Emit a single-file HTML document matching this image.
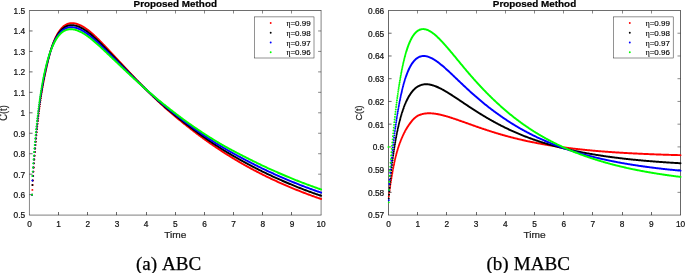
<!DOCTYPE html>
<html><head><meta charset="utf-8"><title>Proposed Method</title>
<style>html,body{margin:0;padding:0;background:#fff}svg{display:block}text{filter:grayscale(1)}</style></head>
<body>
<svg width="685" height="273" viewBox="0 0 685 273">
<rect width="685" height="273" fill="#fff"/>
<g fill="none" stroke="#262626">
<path d="M29.45 10.5V215.1" stroke-width="0.55"/><path d="M321.1 10.5V215.1" stroke-width="0.57"/><path d="M29.18 10.5H321.39" stroke-width="0.67"/><path d="M29.18 215.1H321.39" stroke-width="0.6"/>
<path d="M58.50 215.1v-3.1M87.50 215.1v-3.1M116.50 215.1v-3.1M146.50 215.1v-3.1M175.50 215.1v-3.1M204.50 215.1v-3.1M233.50 215.1v-3.1M262.50 215.1v-3.1M291.50 215.1v-3.1M29.45 194.64h3.1M29.45 174.18h3.1M29.45 153.72h3.1M29.45 133.26h3.1M29.45 112.80h3.1M29.45 92.34h3.1M29.45 71.88h3.1M29.45 51.42h3.1M29.45 30.96h3.1" stroke-width="0.7"/><path d="M58.50 10.5v3.0M87.50 10.5v3.0M116.50 10.5v3.0M146.50 10.5v3.0M175.50 10.5v3.0M204.50 10.5v3.0M233.50 10.5v3.0M262.50 10.5v3.0M291.50 10.5v3.0M321.1 194.64h-3.0M321.1 174.18h-3.0M321.1 153.72h-3.0M321.1 133.26h-3.0M321.1 112.80h-3.0M321.1 92.34h-3.0M321.1 71.88h-3.0M321.1 51.42h-3.0M321.1 30.96h-3.0" stroke-width="0.55"/>
</g>
<g fill="none" stroke-width="1.95" stroke-linecap="round" stroke-linejoin="round">
<path stroke="#ff0000" d="M32.07 194.64h0M32.37 189.88h0M32.66 185.08h0M32.95 180.44h0M33.24 175.95h0M33.53 171.61h0M33.82 167.41h0M34.12 163.36h0M34.41 159.43h0M34.70 155.64h0M34.99 151.97h0M35.28 148.41h0M35.57 144.97h0M35.87 141.64h0M36.16 138.42h0M36.45 135.30h0M36.74 132.27h0M37.03 129.34h0M37.32 126.49h0M37.62 123.73h0M37.91 121.06h0M38.20 118.46h0M38.49 115.94h0M38.78 113.49h0M39.07 111.11h0M39.37 108.80h0M39.66 106.55h0M39.95 104.36h0M40.24 102.24h0M40.53 100.17h0M40.82 98.16h0M41.12 96.20h0M41.41 94.30h0M41.70 92.46h0M41.99 90.68h0M42.28 88.95h0M42.57 87.27h0M42.87 85.63h0M43.16 84.03h0M43.45 82.46h0M43.74 80.93h0M44.03 79.43h0M44.32 77.95h0M44.62 76.50h0M44.91 75.07h0M45.20 73.66h0M45.49 72.27h0M45.78 70.90h0M46.07 69.55h0M46.37 68.21h0M46.66 66.90h0M46.95 65.60h0M47.24 64.31h0M47.53 63.05h0M47.82 61.80h0M48.12 60.58h0M48.41 59.37h0M48.70 58.19h0M48.99 57.02h0M49.28 55.88h0M49.57 54.77h0M49.87 53.68h0M50.16 52.62h0M50.45 51.59h0M50.74 50.59h0M51.03 49.62h0M51.32 48.69h0M51.62 47.79h0M51.91 46.91h0M52.20 46.05h0M52.49 45.22L53.07 43.62L53.66 42.10L54.24 40.66L54.82 39.30L55.41 38.01L55.99 36.79L56.57 35.64L57.16 34.56L57.74 33.54L58.32 32.58L58.91 31.68L59.49 30.84L60.07 30.05L60.66 29.31L61.24 28.62L61.82 27.99L62.41 27.40L62.99 26.85L63.57 26.35L64.16 25.89L64.74 25.47L65.32 25.09L65.91 24.75L66.49 24.45L67.07 24.18L67.66 23.94L68.24 23.74L68.82 23.57L69.41 23.43L69.99 23.32L70.57 23.23L71.16 23.18L71.74 23.15L72.32 23.14L72.91 23.17L73.49 23.21L74.07 23.28L74.66 23.37L75.24 23.48L75.82 23.61L76.41 23.77L76.99 23.94L77.57 24.13L78.16 24.34L78.74 24.56L79.32 24.81L79.91 25.07L80.49 25.34L81.07 25.63L81.66 25.94L82.24 26.26L82.82 26.59L83.41 26.93L83.99 27.29L84.57 27.66L85.16 28.04L85.74 28.44L86.32 28.85L86.91 29.27L87.49 29.70L88.07 30.14L88.65 30.59L89.24 31.05L89.82 31.53L90.40 32.01L90.99 32.50L91.57 33.00L92.15 33.51L92.74 34.03L93.32 34.55L93.90 35.08L94.49 35.62L95.07 36.16L95.65 36.71L96.24 37.27L96.82 37.83L97.40 38.40L97.99 38.97L98.57 39.55L99.15 40.13L99.74 40.72L100.32 41.31L100.90 41.90L101.49 42.50L102.07 43.10L102.65 43.70L103.24 44.31L103.82 44.92L104.40 45.53L104.99 46.14L105.57 46.75L106.15 47.37L106.74 47.98L107.32 48.60L107.90 49.22L108.49 49.84L109.07 50.46L109.65 51.08L110.24 51.70L110.82 52.32L111.40 52.94L111.99 53.56L112.57 54.18L113.15 54.80L113.74 55.42L114.32 56.05L114.90 56.67L115.49 57.30L116.07 57.93L116.65 58.55L117.24 59.18L117.82 59.81L118.40 60.44L118.99 61.06L119.57 61.69L120.15 62.32L120.74 62.95L121.32 63.58L121.90 64.20L122.49 64.83L123.07 65.46L123.65 66.09L124.24 66.71L124.82 67.34L125.40 67.97L125.99 68.59L126.57 69.22L127.15 69.84L127.74 70.47L128.32 71.09L128.90 71.71L129.49 72.33L130.07 72.95L130.65 73.57L131.24 74.19L131.82 74.81L132.40 75.43L132.99 76.04L133.57 76.66L134.15 77.27L134.74 77.88L135.32 78.50L135.90 79.11L136.49 79.71L137.07 80.32L137.65 80.93L138.24 81.54L138.82 82.14L139.40 82.74L139.99 83.34L140.57 83.94L141.15 84.54L141.74 85.14L142.32 85.74L142.90 86.33L143.49 86.92L144.07 87.52L144.65 88.11L145.24 88.69L145.82 89.28L146.40 89.87L146.98 90.45L147.57 91.03L148.15 91.62L148.73 92.20L149.32 92.77L149.90 93.35L150.48 93.92L151.07 94.50L151.65 95.07L152.23 95.64L152.82 96.21L153.40 96.77L153.98 97.34L154.57 97.90L155.15 98.46L155.73 99.02L156.32 99.58L156.90 100.14L157.48 100.69L158.07 101.25L158.65 101.80L159.23 102.35L159.82 102.89L160.40 103.43L160.98 103.97L161.57 104.51L162.15 105.05L162.73 105.58L163.32 106.11L163.90 106.64L164.48 107.16L165.07 107.69L165.65 108.21L166.23 108.73L166.82 109.24L167.40 109.76L167.98 110.27L168.57 110.78L169.15 111.29L169.73 111.80L170.32 112.30L170.90 112.80L171.48 113.30L172.07 113.80L172.65 114.30L173.23 114.79L173.82 115.28L174.40 115.77L174.98 116.26L175.57 116.75L176.15 117.24L176.73 117.72L177.32 118.20L177.90 118.68L178.48 119.16L179.07 119.64L179.65 120.11L180.23 120.59L180.82 121.06L181.40 121.53L181.98 122.00L182.57 122.47L183.15 122.94L183.73 123.41L184.32 123.87L184.90 124.34L185.48 124.80L186.07 125.26L186.65 125.72L187.23 126.18L187.82 126.64L188.40 127.10L188.98 127.55L189.57 128.01L190.15 128.46L190.73 128.92L191.32 129.37L191.90 129.82L192.48 130.28L193.07 130.73L193.65 131.18L194.23 131.63L194.82 132.07L195.40 132.52L195.98 132.96L196.57 133.41L197.15 133.85L197.73 134.29L198.32 134.73L198.90 135.16L199.48 135.60L200.07 136.03L200.65 136.46L201.23 136.89L201.82 137.32L202.40 137.75L202.98 138.18L203.57 138.60L204.15 139.03L204.73 139.45L205.31 139.87L205.90 140.29L206.48 140.71L207.06 141.12L207.65 141.54L208.23 141.95L208.81 142.36L209.40 142.77L209.98 143.18L210.56 143.59L211.15 144.00L211.73 144.40L212.31 144.81L212.90 145.21L213.48 145.61L214.06 146.01L214.65 146.41L215.23 146.80L215.81 147.20L216.40 147.59L216.98 147.98L217.56 148.37L218.15 148.76L218.73 149.15L219.31 149.54L219.90 149.92L220.48 150.31L221.06 150.69L221.65 151.07L222.23 151.45L222.81 151.83L223.40 152.21L223.98 152.58L224.56 152.96L225.15 153.33L225.73 153.70L226.31 154.07L226.90 154.44L227.48 154.81L228.06 155.17L228.65 155.54L229.23 155.90L229.81 156.27L230.40 156.63L230.98 156.99L231.56 157.35L232.15 157.70L232.73 158.06L233.31 158.41L233.90 158.77L234.48 159.12L235.06 159.47L235.65 159.82L236.23 160.17L236.81 160.51L237.40 160.86L237.98 161.20L238.56 161.54L239.15 161.89L239.73 162.23L240.31 162.57L240.90 162.90L241.48 163.24L242.06 163.57L242.65 163.91L243.23 164.24L243.81 164.57L244.40 164.90L244.98 165.23L245.56 165.56L246.15 165.89L246.73 166.21L247.31 166.53L247.90 166.86L248.48 167.18L249.06 167.50L249.65 167.82L250.23 168.13L250.81 168.45L251.40 168.77L251.98 169.08L252.56 169.39L253.15 169.70L253.73 170.02L254.31 170.32L254.90 170.63L255.48 170.94L256.06 171.24L256.65 171.55L257.23 171.85L257.81 172.15L258.40 172.45L258.98 172.75L259.56 173.05L260.15 173.35L260.73 173.65L261.31 173.94L261.90 174.23L262.48 174.53L263.06 174.82L263.64 175.11L264.23 175.40L264.81 175.68L265.39 175.97L265.98 176.26L266.56 176.54L267.14 176.83L267.73 177.11L268.31 177.39L268.89 177.67L269.48 177.95L270.06 178.23L270.64 178.51L271.23 178.78L271.81 179.06L272.39 179.33L272.98 179.61L273.56 179.88L274.14 180.15L274.73 180.42L275.31 180.69L275.89 180.96L276.48 181.23L277.06 181.49L277.64 181.76L278.23 182.02L278.81 182.29L279.39 182.55L279.98 182.81L280.56 183.07L281.14 183.33L281.73 183.59L282.31 183.85L282.89 184.10L283.48 184.36L284.06 184.61L284.64 184.87L285.23 185.12L285.81 185.37L286.39 185.63L286.98 185.88L287.56 186.13L288.14 186.37L288.73 186.62L289.31 186.87L289.89 187.12L290.48 187.36L291.06 187.60L291.64 187.85L292.23 188.09L292.81 188.33L293.39 188.57L293.98 188.81L294.56 189.05L295.14 189.29L295.73 189.53L296.31 189.76L296.89 190.00L297.48 190.23L298.06 190.47L298.64 190.70L299.23 190.93L299.81 191.16L300.39 191.39L300.98 191.62L301.56 191.85L302.14 192.07L302.73 192.30L303.31 192.53L303.89 192.75L304.48 192.97L305.06 193.20L305.64 193.42L306.23 193.64L306.81 193.86L307.39 194.08L307.98 194.30L308.56 194.51L309.14 194.73L309.73 194.94L310.31 195.16L310.89 195.37L311.48 195.59L312.06 195.80L312.64 196.01L313.23 196.22L313.81 196.43L314.39 196.64L314.98 196.84L315.56 197.05L316.14 197.26L316.73 197.46L317.31 197.66L317.89 197.87L318.48 198.07L319.06 198.27L319.64 198.47L320.23 198.67L320.81 198.87L321.10 198.97"/>
<path stroke="#000000" d="M32.07 194.64h0M32.37 185.08h0M32.66 180.44h0M32.95 175.95h0M33.24 171.61h0M33.53 167.41h0M33.82 163.36h0M34.12 159.43h0M34.41 155.64h0M34.70 151.97h0M34.99 148.41h0M35.28 144.97h0M35.57 141.64h0M35.87 138.42h0M36.16 135.30h0M36.45 132.27h0M36.74 129.34h0M37.03 126.49h0M37.32 123.73h0M37.62 121.06h0M37.91 118.46h0M38.20 115.94h0M38.49 113.49h0M38.78 111.11h0M39.07 108.80h0M39.37 106.55h0M39.66 104.36h0M39.95 102.24h0M40.24 100.17h0M40.53 98.16h0M40.82 96.20h0M41.12 94.30h0M41.41 92.44h0M41.70 90.65h0M41.99 88.91h0M42.28 87.21h0M42.57 85.56h0M42.87 83.96h0M43.16 82.39h0M43.45 80.86h0M43.74 79.36h0M44.03 77.89h0M44.32 76.45h0M44.62 75.04h0M44.91 73.66h0M45.20 72.30h0M45.49 70.96h0M45.78 69.65h0M46.07 68.35h0M46.37 67.08h0M46.66 65.83h0M46.95 64.60h0M47.24 63.39h0M47.53 62.20h0M47.82 61.04h0M48.12 59.89h0M48.41 58.76h0M48.70 57.66h0M48.99 56.58h0M49.28 55.52h0M49.57 54.49h0M49.87 53.48h0M50.16 52.49h0M50.45 51.54h0M50.74 50.61h0M51.03 49.71h0M51.32 48.84h0M51.62 47.99h0M51.91 47.17h0M52.20 46.37h0M52.49 45.58L53.07 44.08L53.66 42.66L54.24 41.31L54.82 40.04L55.41 38.83L55.99 37.69L56.57 36.62L57.16 35.61L57.74 34.66L58.32 33.76L58.91 32.92L59.49 32.14L60.07 31.41L60.66 30.72L61.24 30.09L61.82 29.50L62.41 28.95L62.99 28.45L63.57 27.99L64.16 27.57L64.74 27.19L65.32 26.84L65.91 26.54L66.49 26.26L67.07 26.02L67.66 25.81L68.24 25.64L68.82 25.49L69.41 25.37L69.99 25.28L70.57 25.22L71.16 25.19L71.74 25.18L72.32 25.19L72.91 25.23L73.49 25.28L74.07 25.37L74.66 25.47L75.24 25.59L75.82 25.73L76.41 25.90L76.99 26.08L77.57 26.27L78.16 26.49L78.74 26.72L79.32 26.97L79.91 27.23L80.49 27.51L81.07 27.80L81.66 28.11L82.24 28.42L82.82 28.76L83.41 29.10L83.99 29.45L84.57 29.82L85.16 30.20L85.74 30.59L86.32 30.99L86.91 31.41L87.49 31.83L88.07 32.27L88.65 32.71L89.24 33.17L89.82 33.63L90.40 34.10L90.99 34.58L91.57 35.07L92.15 35.57L92.74 36.08L93.32 36.59L93.90 37.11L94.49 37.63L95.07 38.16L95.65 38.70L96.24 39.24L96.82 39.79L97.40 40.34L97.99 40.90L98.57 41.46L99.15 42.02L99.74 42.59L100.32 43.16L100.90 43.74L101.49 44.32L102.07 44.90L102.65 45.48L103.24 46.07L103.82 46.66L104.40 47.25L104.99 47.84L105.57 48.43L106.15 49.03L106.74 49.62L107.32 50.22L107.90 50.81L108.49 51.41L109.07 52.01L109.65 52.61L110.24 53.20L110.82 53.80L111.40 54.40L111.99 54.99L112.57 55.59L113.15 56.19L113.74 56.79L114.32 57.39L114.90 57.99L115.49 58.60L116.07 59.20L116.65 59.80L117.24 60.40L117.82 61.01L118.40 61.61L118.99 62.21L119.57 62.82L120.15 63.42L120.74 64.02L121.32 64.63L121.90 65.23L122.49 65.83L123.07 66.43L123.65 67.03L124.24 67.64L124.82 68.24L125.40 68.84L125.99 69.44L126.57 70.04L127.15 70.63L127.74 71.23L128.32 71.83L128.90 72.43L129.49 73.02L130.07 73.62L130.65 74.21L131.24 74.80L131.82 75.39L132.40 75.99L132.99 76.58L133.57 77.16L134.15 77.75L134.74 78.34L135.32 78.93L135.90 79.51L136.49 80.09L137.07 80.68L137.65 81.26L138.24 81.84L138.82 82.42L139.40 82.99L139.99 83.57L140.57 84.14L141.15 84.72L141.74 85.29L142.32 85.86L142.90 86.43L143.49 87.00L144.07 87.56L144.65 88.13L145.24 88.69L145.82 89.26L146.40 89.82L146.98 90.38L147.57 90.93L148.15 91.49L148.73 92.05L149.32 92.60L149.90 93.15L150.48 93.70L151.07 94.25L151.65 94.80L152.23 95.35L152.82 95.89L153.40 96.43L153.98 96.97L154.57 97.51L155.15 98.05L155.73 98.59L156.32 99.12L156.90 99.66L157.48 100.19L158.07 100.72L158.65 101.25L159.23 101.77L159.82 102.30L160.40 102.82L160.98 103.33L161.57 103.85L162.15 104.36L162.73 104.87L163.32 105.38L163.90 105.89L164.48 106.39L165.07 106.90L165.65 107.40L166.23 107.90L166.82 108.40L167.40 108.89L167.98 109.39L168.57 109.88L169.15 110.37L169.73 110.86L170.32 111.35L170.90 111.84L171.48 112.32L172.07 112.81L172.65 113.29L173.23 113.77L173.82 114.25L174.40 114.73L174.98 115.20L175.57 115.68L176.15 116.15L176.73 116.62L177.32 117.09L177.90 117.56L178.48 118.03L179.07 118.49L179.65 118.96L180.23 119.42L180.82 119.88L181.40 120.34L181.98 120.80L182.57 121.25L183.15 121.71L183.73 122.16L184.32 122.62L184.90 123.07L185.48 123.52L186.07 123.96L186.65 124.41L187.23 124.86L187.82 125.30L188.40 125.74L188.98 126.18L189.57 126.62L190.15 127.06L190.73 127.50L191.32 127.94L191.90 128.37L192.48 128.81L193.07 129.25L193.65 129.68L194.23 130.11L194.82 130.54L195.40 130.97L195.98 131.40L196.57 131.83L197.15 132.26L197.73 132.68L198.32 133.10L198.90 133.52L199.48 133.95L200.07 134.36L200.65 134.78L201.23 135.20L201.82 135.61L202.40 136.02L202.98 136.44L203.57 136.85L204.15 137.26L204.73 137.66L205.31 138.07L205.90 138.48L206.48 138.88L207.06 139.28L207.65 139.68L208.23 140.08L208.81 140.48L209.40 140.88L209.98 141.27L210.56 141.67L211.15 142.06L211.73 142.45L212.31 142.84L212.90 143.23L213.48 143.62L214.06 144.00L214.65 144.39L215.23 144.77L215.81 145.15L216.40 145.53L216.98 145.91L217.56 146.29L218.15 146.66L218.73 147.03L219.31 147.41L219.90 147.78L220.48 148.15L221.06 148.51L221.65 148.88L222.23 149.24L222.81 149.61L223.40 149.97L223.98 150.33L224.56 150.69L225.15 151.05L225.73 151.40L226.31 151.76L226.90 152.11L227.48 152.46L228.06 152.81L228.65 153.16L229.23 153.51L229.81 153.86L230.40 154.20L230.98 154.55L231.56 154.89L232.15 155.23L232.73 155.57L233.31 155.91L233.90 156.25L234.48 156.59L235.06 156.93L235.65 157.26L236.23 157.59L236.81 157.93L237.40 158.26L237.98 158.59L238.56 158.92L239.15 159.25L239.73 159.57L240.31 159.90L240.90 160.22L241.48 160.55L242.06 160.87L242.65 161.19L243.23 161.51L243.81 161.83L244.40 162.15L244.98 162.47L245.56 162.79L246.15 163.10L246.73 163.42L247.31 163.73L247.90 164.04L248.48 164.36L249.06 164.67L249.65 164.98L250.23 165.29L250.81 165.60L251.40 165.91L251.98 166.21L252.56 166.52L253.15 166.82L253.73 167.13L254.31 167.43L254.90 167.73L255.48 168.03L256.06 168.33L256.65 168.63L257.23 168.92L257.81 169.22L258.40 169.51L258.98 169.81L259.56 170.10L260.15 170.39L260.73 170.68L261.31 170.97L261.90 171.26L262.48 171.54L263.06 171.83L263.64 172.11L264.23 172.40L264.81 172.68L265.39 172.96L265.98 173.24L266.56 173.52L267.14 173.80L267.73 174.08L268.31 174.36L268.89 174.63L269.48 174.91L270.06 175.18L270.64 175.46L271.23 175.73L271.81 176.00L272.39 176.27L272.98 176.54L273.56 176.81L274.14 177.08L274.73 177.35L275.31 177.61L275.89 177.88L276.48 178.14L277.06 178.41L277.64 178.67L278.23 178.93L278.81 179.19L279.39 179.45L279.98 179.71L280.56 179.97L281.14 180.22L281.73 180.48L282.31 180.73L282.89 180.99L283.48 181.24L284.06 181.50L284.64 181.75L285.23 182.00L285.81 182.25L286.39 182.50L286.98 182.75L287.56 182.99L288.14 183.24L288.73 183.49L289.31 183.73L289.89 183.98L290.48 184.22L291.06 184.46L291.64 184.70L292.23 184.94L292.81 185.18L293.39 185.42L293.98 185.66L294.56 185.90L295.14 186.14L295.73 186.37L296.31 186.61L296.89 186.84L297.48 187.07L298.06 187.31L298.64 187.54L299.23 187.77L299.81 188.00L300.39 188.23L300.98 188.45L301.56 188.68L302.14 188.91L302.73 189.13L303.31 189.36L303.89 189.58L304.48 189.81L305.06 190.03L305.64 190.25L306.23 190.47L306.81 190.69L307.39 190.91L307.98 191.12L308.56 191.34L309.14 191.56L309.73 191.77L310.31 191.99L310.89 192.20L311.48 192.41L312.06 192.63L312.64 192.84L313.23 193.05L313.81 193.26L314.39 193.46L314.98 193.67L315.56 193.88L316.14 194.08L316.73 194.29L317.31 194.49L317.89 194.70L318.48 194.90L319.06 195.10L319.64 195.30L320.23 195.50L320.81 195.70L321.10 195.80"/>
<path stroke="#0000ff" d="M32.07 194.64h0M32.37 180.44h0M32.66 175.95h0M32.95 171.61h0M33.24 167.41h0M33.53 163.36h0M33.82 159.43h0M34.12 155.64h0M34.41 151.97h0M34.70 148.41h0M34.99 144.97h0M35.28 141.64h0M35.57 138.42h0M35.87 135.30h0M36.16 132.27h0M36.45 129.34h0M36.74 126.49h0M37.03 123.73h0M37.32 121.06h0M37.62 118.46h0M37.91 115.94h0M38.20 113.49h0M38.49 111.11h0M38.78 108.80h0M39.07 106.55h0M39.37 104.36h0M39.66 102.24h0M39.95 100.17h0M40.24 98.16h0M40.53 96.20h0M40.82 94.30h0M41.12 92.44h0M41.41 90.63h0M41.70 88.88h0M41.99 87.17h0M42.28 85.51h0M42.57 83.90h0M42.87 82.32h0M43.16 80.78h0M43.45 79.28h0M43.74 77.81h0M44.03 76.38h0M44.32 74.98h0M44.62 73.61h0M44.91 72.27h0M45.20 70.95h0M45.49 69.67h0M45.78 68.41h0M46.07 67.18h0M46.37 65.97h0M46.66 64.78h0M46.95 63.62h0M47.24 62.48h0M47.53 61.37h0M47.82 60.28h0M48.12 59.21h0M48.41 58.16h0M48.70 57.14h0M48.99 56.14h0M49.28 55.16h0M49.57 54.21h0M49.87 53.28h0M50.16 52.37h0M50.45 51.49h0M50.74 50.63h0M51.03 49.79h0M51.32 48.98h0M51.62 48.19h0M51.91 47.43h0M52.20 46.68h0M52.49 45.95L53.07 44.55L53.66 43.22L54.24 41.97L54.82 40.78L55.41 39.66L55.99 38.60L56.57 37.60L57.16 36.66L57.74 35.77L58.32 34.95L58.91 34.17L59.49 33.44L60.07 32.76L60.66 32.13L61.24 31.55L61.82 31.01L62.41 30.51L62.99 30.05L63.57 29.63L64.16 29.25L64.74 28.90L65.32 28.59L65.91 28.32L66.49 28.08L67.07 27.87L67.66 27.69L68.24 27.54L68.82 27.42L69.41 27.32L69.99 27.25L70.57 27.21L71.16 27.20L71.74 27.20L72.32 27.23L72.91 27.29L73.49 27.36L74.07 27.45L74.66 27.57L75.24 27.70L75.82 27.86L76.41 28.03L76.99 28.21L77.57 28.42L78.16 28.64L78.74 28.88L79.32 29.13L79.91 29.39L80.49 29.67L81.07 29.97L81.66 30.27L82.24 30.59L82.82 30.92L83.41 31.27L83.99 31.62L84.57 31.98L85.16 32.36L85.74 32.74L86.32 33.14L86.91 33.55L87.49 33.97L88.07 34.39L88.65 34.83L89.24 35.28L89.82 35.73L90.40 36.20L90.99 36.67L91.57 37.15L92.15 37.63L92.74 38.13L93.32 38.62L93.90 39.13L94.49 39.64L95.07 40.16L95.65 40.68L96.24 41.21L96.82 41.74L97.40 42.28L97.99 42.82L98.57 43.36L99.15 43.91L99.74 44.46L100.32 45.02L100.90 45.58L101.49 46.14L102.07 46.70L102.65 47.26L103.24 47.83L103.82 48.40L104.40 48.97L104.99 49.54L105.57 50.11L106.15 50.69L106.74 51.26L107.32 51.84L107.90 52.41L108.49 52.99L109.07 53.56L109.65 54.14L110.24 54.71L110.82 55.28L111.40 55.86L111.99 56.43L112.57 57.01L113.15 57.58L113.74 58.16L114.32 58.74L114.90 59.31L115.49 59.89L116.07 60.47L116.65 61.05L117.24 61.63L117.82 62.20L118.40 62.78L118.99 63.36L119.57 63.94L120.15 64.52L120.74 65.10L121.32 65.67L121.90 66.25L122.49 66.83L123.07 67.40L123.65 67.98L124.24 68.56L124.82 69.13L125.40 69.71L125.99 70.28L126.57 70.85L127.15 71.43L127.74 72.00L128.32 72.57L128.90 73.14L129.49 73.71L130.07 74.28L130.65 74.85L131.24 75.41L131.82 75.98L132.40 76.55L132.99 77.11L133.57 77.67L134.15 78.23L134.74 78.80L135.32 79.36L135.90 79.91L136.49 80.47L137.07 81.03L137.65 81.58L138.24 82.14L138.82 82.69L139.40 83.24L139.99 83.79L140.57 84.34L141.15 84.89L141.74 85.44L142.32 85.98L142.90 86.53L143.49 87.07L144.07 87.61L144.65 88.15L145.24 88.69L145.82 89.23L146.40 89.77L146.98 90.30L147.57 90.83L148.15 91.37L148.73 91.90L149.32 92.43L149.90 92.95L150.48 93.48L151.07 94.01L151.65 94.53L152.23 95.05L152.82 95.57L153.40 96.09L153.98 96.61L154.57 97.13L155.15 97.64L155.73 98.15L156.32 98.67L156.90 99.18L157.48 99.68L158.07 100.19L158.65 100.70L159.23 101.20L159.82 101.70L160.40 102.20L160.98 102.69L161.57 103.19L162.15 103.68L162.73 104.17L163.32 104.65L163.90 105.14L164.48 105.62L165.07 106.10L165.65 106.59L166.23 107.07L166.82 107.55L167.40 108.03L167.98 108.50L168.57 108.98L169.15 109.46L169.73 109.93L170.32 110.40L170.90 110.87L171.48 111.35L172.07 111.81L172.65 112.28L173.23 112.75L173.82 113.22L174.40 113.68L174.98 114.14L175.57 114.61L176.15 115.07L176.73 115.53L177.32 115.98L177.90 116.44L178.48 116.89L179.07 117.35L179.65 117.80L180.23 118.25L180.82 118.70L181.40 119.15L181.98 119.59L182.57 120.04L183.15 120.48L183.73 120.92L184.32 121.36L184.90 121.80L185.48 122.23L186.07 122.67L186.65 123.10L187.23 123.53L187.82 123.96L188.40 124.39L188.98 124.81L189.57 125.24L190.15 125.66L190.73 126.08L191.32 126.50L191.90 126.92L192.48 127.34L193.07 127.76L193.65 128.18L194.23 128.60L194.82 129.02L195.40 129.43L195.98 129.84L196.57 130.25L197.15 130.66L197.73 131.07L198.32 131.48L198.90 131.89L199.48 132.29L200.07 132.70L200.65 133.10L201.23 133.50L201.82 133.90L202.40 134.30L202.98 134.70L203.57 135.09L204.15 135.49L204.73 135.88L205.31 136.27L205.90 136.66L206.48 137.05L207.06 137.44L207.65 137.83L208.23 138.21L208.81 138.60L209.40 138.98L209.98 139.36L210.56 139.74L211.15 140.12L211.73 140.50L212.31 140.88L212.90 141.25L213.48 141.63L214.06 142.00L214.65 142.37L215.23 142.74L215.81 143.11L216.40 143.47L216.98 143.84L217.56 144.20L218.15 144.56L218.73 144.92L219.31 145.27L219.90 145.63L220.48 145.98L221.06 146.34L221.65 146.69L222.23 147.04L222.81 147.38L223.40 147.73L223.98 148.08L224.56 148.42L225.15 148.76L225.73 149.10L226.31 149.44L226.90 149.78L227.48 150.12L228.06 150.45L228.65 150.79L229.23 151.12L229.81 151.45L230.40 151.78L230.98 152.11L231.56 152.44L232.15 152.77L232.73 153.09L233.31 153.42L233.90 153.74L234.48 154.06L235.06 154.38L235.65 154.70L236.23 155.02L236.81 155.34L237.40 155.66L237.98 155.98L238.56 156.29L239.15 156.61L239.73 156.92L240.31 157.23L240.90 157.55L241.48 157.86L242.06 158.17L242.65 158.48L243.23 158.79L243.81 159.09L244.40 159.40L244.98 159.71L245.56 160.01L246.15 160.32L246.73 160.63L247.31 160.93L247.90 161.23L248.48 161.54L249.06 161.84L249.65 162.14L250.23 162.44L250.81 162.74L251.40 163.04L251.98 163.34L252.56 163.64L253.15 163.94L253.73 164.24L254.31 164.53L254.90 164.83L255.48 165.12L256.06 165.41L256.65 165.70L257.23 165.99L257.81 166.28L258.40 166.57L258.98 166.86L259.56 167.14L260.15 167.43L260.73 167.71L261.31 168.00L261.90 168.28L262.48 168.56L263.06 168.84L263.64 169.12L264.23 169.40L264.81 169.68L265.39 169.95L265.98 170.23L266.56 170.50L267.14 170.78L267.73 171.05L268.31 171.33L268.89 171.60L269.48 171.87L270.06 172.14L270.64 172.41L271.23 172.68L271.81 172.94L272.39 173.21L272.98 173.48L273.56 173.74L274.14 174.01L274.73 174.27L275.31 174.53L275.89 174.80L276.48 175.06L277.06 175.32L277.64 175.58L278.23 175.83L278.81 176.09L279.39 176.35L279.98 176.61L280.56 176.86L281.14 177.12L281.73 177.37L282.31 177.62L282.89 177.87L283.48 178.13L284.06 178.38L284.64 178.63L285.23 178.87L285.81 179.12L286.39 179.37L286.98 179.62L287.56 179.86L288.14 180.11L288.73 180.35L289.31 180.59L289.89 180.84L290.48 181.08L291.06 181.32L291.64 181.56L292.23 181.80L292.81 182.04L293.39 182.27L293.98 182.51L294.56 182.75L295.14 182.98L295.73 183.22L296.31 183.45L296.89 183.68L297.48 183.92L298.06 184.15L298.64 184.38L299.23 184.61L299.81 184.84L300.39 185.06L300.98 185.29L301.56 185.52L302.14 185.74L302.73 185.97L303.31 186.19L303.89 186.41L304.48 186.64L305.06 186.86L305.64 187.08L306.23 187.30L306.81 187.52L307.39 187.74L307.98 187.95L308.56 188.17L309.14 188.39L309.73 188.60L310.31 188.82L310.89 189.03L311.48 189.24L312.06 189.45L312.64 189.66L313.23 189.87L313.81 190.08L314.39 190.29L314.98 190.50L315.56 190.71L316.14 190.91L316.73 191.12L317.31 191.32L317.89 191.53L318.48 191.73L319.06 191.93L319.64 192.13L320.23 192.33L320.81 192.53L321.10 192.63"/>
<path stroke="#00ff00" d="M32.07 194.64h0M32.37 175.95h0M32.66 171.61h0M32.95 167.41h0M33.24 163.36h0M33.53 159.43h0M33.82 155.64h0M34.12 151.97h0M34.41 148.41h0M34.70 144.97h0M34.99 141.64h0M35.28 138.42h0M35.57 135.30h0M35.87 132.27h0M36.16 129.34h0M36.45 126.49h0M36.74 123.73h0M37.03 121.06h0M37.32 118.46h0M37.62 115.94h0M37.91 113.49h0M38.20 111.11h0M38.49 108.80h0M38.78 106.55h0M39.07 104.36h0M39.37 102.24h0M39.66 100.17h0M39.95 98.16h0M40.24 96.20h0M40.53 94.30h0M40.82 92.44h0M41.12 90.63h0M41.41 88.87h0M41.70 87.16h0M41.99 85.48h0M42.28 83.85h0M42.57 82.27h0M42.87 80.72h0M43.16 79.21h0M43.45 77.74h0M43.74 76.30h0M44.03 74.90h0M44.32 73.53h0M44.62 72.20h0M44.91 70.90h0M45.20 69.63h0M45.49 68.40h0M45.78 67.19h0M46.07 66.01h0M46.37 64.86h0M46.66 63.74h0M46.95 62.65h0M47.24 61.58h0M47.53 60.54h0M47.82 59.52h0M48.12 58.53h0M48.41 57.57h0M48.70 56.62h0M48.99 55.70h0M49.28 54.81h0M49.57 53.93h0M49.87 53.08h0M50.16 52.25h0M50.45 51.44h0M50.74 50.65h0M51.03 49.88h0M51.32 49.13h0M51.62 48.40h0M51.91 47.68h0M52.20 46.99h0M52.49 46.31L53.07 45.01L53.66 43.78L54.24 42.62L54.82 41.52L55.41 40.48L55.99 39.50L56.57 38.58L57.16 37.71L57.74 36.89L58.32 36.13L58.91 35.41L59.49 34.75L60.07 34.12L60.66 33.55L61.24 33.01L61.82 32.52L62.41 32.06L62.99 31.65L63.57 31.27L64.16 30.93L64.74 30.62L65.32 30.35L65.91 30.10L66.49 29.89L67.07 29.71L67.66 29.56L68.24 29.44L68.82 29.34L69.41 29.27L69.99 29.22L70.57 29.20L71.16 29.20L71.74 29.23L72.32 29.28L72.91 29.35L73.49 29.43L74.07 29.54L74.66 29.67L75.24 29.81L75.82 29.98L76.41 30.16L76.99 30.35L77.57 30.56L78.16 30.79L78.74 31.03L79.32 31.29L79.91 31.56L80.49 31.84L81.07 32.14L81.66 32.44L82.24 32.76L82.82 33.09L83.41 33.43L83.99 33.78L84.57 34.14L85.16 34.51L85.74 34.90L86.32 35.29L86.91 35.69L87.49 36.10L88.07 36.52L88.65 36.95L89.24 37.39L89.82 37.84L90.40 38.29L90.99 38.75L91.57 39.22L92.15 39.69L92.74 40.18L93.32 40.66L93.90 41.16L94.49 41.65L95.07 42.16L95.65 42.66L96.24 43.18L96.82 43.69L97.40 44.22L97.99 44.74L98.57 45.27L99.15 45.80L99.74 46.33L100.32 46.87L100.90 47.41L101.49 47.95L102.07 48.50L102.65 49.04L103.24 49.59L103.82 50.14L104.40 50.69L104.99 51.24L105.57 51.79L106.15 52.35L106.74 52.90L107.32 53.45L107.90 54.01L108.49 54.56L109.07 55.11L109.65 55.67L110.24 56.22L110.82 56.77L111.40 57.32L111.99 57.87L112.57 58.42L113.15 58.98L113.74 59.53L114.32 60.08L114.90 60.63L115.49 61.19L116.07 61.74L116.65 62.29L117.24 62.85L117.82 63.40L118.40 63.96L118.99 64.51L119.57 65.06L120.15 65.62L120.74 66.17L121.32 66.72L121.90 67.27L122.49 67.83L123.07 68.38L123.65 68.93L124.24 69.48L124.82 70.03L125.40 70.58L125.99 71.12L126.57 71.67L127.15 72.22L127.74 72.77L128.32 73.31L128.90 73.86L129.49 74.40L130.07 74.94L130.65 75.48L131.24 76.03L131.82 76.57L132.40 77.10L132.99 77.64L133.57 78.18L134.15 78.72L134.74 79.25L135.32 79.79L135.90 80.32L136.49 80.85L137.07 81.38L137.65 81.91L138.24 82.44L138.82 82.97L139.40 83.49L139.99 84.02L140.57 84.54L141.15 85.07L141.74 85.59L142.32 86.11L142.90 86.63L143.49 87.14L144.07 87.66L144.65 88.18L145.24 88.69L145.82 89.20L146.40 89.72L146.98 90.23L147.57 90.73L148.15 91.24L148.73 91.75L149.32 92.25L149.90 92.76L150.48 93.26L151.07 93.76L151.65 94.26L152.23 94.76L152.82 95.25L153.40 95.75L153.98 96.24L154.57 96.74L155.15 97.23L155.73 97.72L156.32 98.21L156.90 98.69L157.48 99.18L158.07 99.66L158.65 100.15L159.23 100.63L159.82 101.10L160.40 101.58L160.98 102.05L161.57 102.52L162.15 102.99L162.73 103.46L163.32 103.93L163.90 104.39L164.48 104.85L165.07 105.31L165.65 105.78L166.23 106.24L166.82 106.70L167.40 107.16L167.98 107.62L168.57 108.08L169.15 108.54L169.73 109.00L170.32 109.45L170.90 109.91L171.48 110.37L172.07 110.82L172.65 111.28L173.23 111.73L173.82 112.18L174.40 112.63L174.98 113.08L175.57 113.53L176.15 113.98L176.73 114.43L177.32 114.87L177.90 115.32L178.48 115.76L179.07 116.20L179.65 116.64L180.23 117.08L180.82 117.52L181.40 117.95L181.98 118.39L182.57 118.82L183.15 119.25L183.73 119.68L184.32 120.10L184.90 120.53L185.48 120.95L186.07 121.37L186.65 121.79L187.23 122.21L187.82 122.62L188.40 123.04L188.98 123.45L189.57 123.85L190.15 124.26L190.73 124.66L191.32 125.07L191.90 125.47L192.48 125.88L193.07 126.28L193.65 126.68L194.23 127.09L194.82 127.49L195.40 127.88L195.98 128.28L196.57 128.68L197.15 129.07L197.73 129.47L198.32 129.86L198.90 130.25L199.48 130.64L200.07 131.03L200.65 131.42L201.23 131.80L201.82 132.19L202.40 132.57L202.98 132.95L203.57 133.34L204.15 133.72L204.73 134.09L205.31 134.47L205.90 134.85L206.48 135.22L207.06 135.60L207.65 135.97L208.23 136.34L208.81 136.71L209.40 137.08L209.98 137.45L210.56 137.82L211.15 138.18L211.73 138.55L212.31 138.91L212.90 139.27L213.48 139.64L214.06 139.99L214.65 140.35L215.23 140.71L215.81 141.06L216.40 141.41L216.98 141.76L217.56 142.11L218.15 142.46L218.73 142.80L219.31 143.14L219.90 143.48L220.48 143.82L221.06 144.16L221.65 144.50L222.23 144.83L222.81 145.16L223.40 145.49L223.98 145.82L224.56 146.15L225.15 146.48L225.73 146.80L226.31 147.13L226.90 147.45L227.48 147.77L228.06 148.09L228.65 148.41L229.23 148.73L229.81 149.04L230.40 149.36L230.98 149.67L231.56 149.99L232.15 150.30L232.73 150.61L233.31 150.92L233.90 151.23L234.48 151.54L235.06 151.84L235.65 152.15L236.23 152.45L236.81 152.76L237.40 153.06L237.98 153.36L238.56 153.67L239.15 153.97L239.73 154.27L240.31 154.57L240.90 154.87L241.48 155.17L242.06 155.46L242.65 155.76L243.23 156.06L243.81 156.36L244.40 156.65L244.98 156.95L245.56 157.24L246.15 157.54L246.73 157.83L247.31 158.13L247.90 158.42L248.48 158.71L249.06 159.01L249.65 159.30L250.23 159.60L250.81 159.89L251.40 160.18L251.98 160.47L252.56 160.77L253.15 161.06L253.73 161.35L254.31 161.63L254.90 161.92L255.48 162.21L256.06 162.49L256.65 162.78L257.23 163.06L257.81 163.35L258.40 163.63L258.98 163.91L259.56 164.19L260.15 164.47L260.73 164.75L261.31 165.02L261.90 165.30L262.48 165.58L263.06 165.85L263.64 166.13L264.23 166.40L264.81 166.67L265.39 166.94L265.98 167.22L266.56 167.49L267.14 167.76L267.73 168.02L268.31 168.29L268.89 168.56L269.48 168.83L270.06 169.09L270.64 169.36L271.23 169.62L271.81 169.89L272.39 170.15L272.98 170.41L273.56 170.67L274.14 170.93L274.73 171.20L275.31 171.45L275.89 171.71L276.48 171.97L277.06 172.23L277.64 172.48L278.23 172.74L278.81 173.00L279.39 173.25L279.98 173.50L280.56 173.76L281.14 174.01L281.73 174.26L282.31 174.51L282.89 174.76L283.48 175.01L284.06 175.26L284.64 175.50L285.23 175.75L285.81 176.00L286.39 176.24L286.98 176.49L287.56 176.73L288.14 176.97L288.73 177.21L289.31 177.46L289.89 177.70L290.48 177.94L291.06 178.18L291.64 178.41L292.23 178.65L292.81 178.89L293.39 179.13L293.98 179.36L294.56 179.60L295.14 179.83L295.73 180.06L296.31 180.30L296.89 180.53L297.48 180.76L298.06 180.99L298.64 181.22L299.23 181.45L299.81 181.67L300.39 181.90L300.98 182.13L301.56 182.35L302.14 182.58L302.73 182.80L303.31 183.02L303.89 183.25L304.48 183.47L305.06 183.69L305.64 183.91L306.23 184.13L306.81 184.35L307.39 184.57L307.98 184.78L308.56 185.00L309.14 185.22L309.73 185.43L310.31 185.64L310.89 185.86L311.48 186.07L312.06 186.28L312.64 186.49L313.23 186.70L313.81 186.91L314.39 187.12L314.98 187.33L315.56 187.54L316.14 187.74L316.73 187.95L317.31 188.15L317.89 188.36L318.48 188.56L319.06 188.76L319.64 188.96L320.23 189.16L320.81 189.36L321.10 189.46"/>
</g>
<g font-family="Liberation Sans, sans-serif" font-size="8.3" fill="#111" stroke="#111" stroke-width="0.22">
<text x="29.45" y="226.70" text-anchor="middle">0</text>
<text x="58.62" y="226.70" text-anchor="middle">1</text>
<text x="87.78" y="226.70" text-anchor="middle">2</text>
<text x="116.95" y="226.70" text-anchor="middle">3</text>
<text x="146.11" y="226.70" text-anchor="middle">4</text>
<text x="175.28" y="226.70" text-anchor="middle">5</text>
<text x="204.44" y="226.70" text-anchor="middle">6</text>
<text x="233.61" y="226.70" text-anchor="middle">7</text>
<text x="262.77" y="226.70" text-anchor="middle">8</text>
<text x="291.94" y="226.70" text-anchor="middle">9</text>
<text x="321.10" y="226.70" text-anchor="middle">10</text>
<text x="25.15" y="218.45" text-anchor="end">0.5</text>
<text x="25.15" y="197.99" text-anchor="end">0.6</text>
<text x="25.15" y="177.53" text-anchor="end">0.7</text>
<text x="25.15" y="157.07" text-anchor="end">0.8</text>
<text x="25.15" y="136.61" text-anchor="end">0.9</text>
<text x="25.15" y="116.15" text-anchor="end">1</text>
<text x="25.15" y="95.69" text-anchor="end">1.1</text>
<text x="25.15" y="75.23" text-anchor="end">1.2</text>
<text x="25.15" y="54.77" text-anchor="end">1.3</text>
<text x="25.15" y="34.31" text-anchor="end">1.4</text>
<text x="25.15" y="13.85" text-anchor="end">1.5</text>
</g>
<g font-family="Liberation Sans, sans-serif" fill="#262626" stroke="#262626" stroke-width="0.22" text-anchor="middle">
<text x="175.28" y="237.70" font-size="9.1" textLength="22.2" lengthAdjust="spacingAndGlyphs">Time</text>
<text transform="translate(7.30 113.00) rotate(-90) scale(1 1.15)" font-size="9.3">C(t)</text>
<text x="175.28" y="6.60" font-size="8.8" font-weight="bold" fill="#000" stroke="#000" stroke-width="0.2" textLength="83.4" lengthAdjust="spacingAndGlyphs">Proposed Method</text>
</g>
<rect x="254.50" y="16.90" width="59.50" height="41.10" fill="#fff" stroke="#262626" stroke-width="0.5"/>
<circle cx="270.70" cy="22.95" r="0.95" fill="#ff0000"/>
<text x="310.70" y="26.05" text-anchor="end" stroke="#000" stroke-width="0.15" font-family="Liberation Sans, sans-serif" font-size="8.0" fill="#000"><tspan font-family="Liberation Serif, serif" font-size="7.6">η</tspan>=0.99</text>
<circle cx="270.70" cy="32.70" r="0.95" fill="#000000"/>
<text x="310.70" y="35.80" text-anchor="end" stroke="#000" stroke-width="0.15" font-family="Liberation Sans, sans-serif" font-size="8.0" fill="#000"><tspan font-family="Liberation Serif, serif" font-size="7.6">η</tspan>=0.98</text>
<circle cx="270.70" cy="42.45" r="0.95" fill="#0000ff"/>
<text x="310.70" y="45.55" text-anchor="end" stroke="#000" stroke-width="0.15" font-family="Liberation Sans, sans-serif" font-size="8.0" fill="#000"><tspan font-family="Liberation Serif, serif" font-size="7.6">η</tspan>=0.97</text>
<circle cx="270.70" cy="52.20" r="0.95" fill="#00ff00"/>
<text x="310.70" y="55.30" text-anchor="end" stroke="#000" stroke-width="0.15" font-family="Liberation Sans, sans-serif" font-size="8.0" fill="#000"><tspan font-family="Liberation Serif, serif" font-size="7.6">η</tspan>=0.96</text>
<g fill="none" stroke="#262626">
<path d="M388.5 10.5V215.1" stroke-width="0.7"/><path d="M680.5 10.5V215.1" stroke-width="0.7"/><path d="M388.15 10.5H680.85" stroke-width="0.67"/><path d="M388.15 215.1H680.85" stroke-width="0.6"/>
<path d="M417.50 215.1v-3.1M446.50 215.1v-3.1M476.50 215.1v-3.1M505.50 215.1v-3.1M534.50 215.1v-3.1M563.50 215.1v-3.1M592.50 215.1v-3.1M622.50 215.1v-3.1M651.50 215.1v-3.1M388.5 192.37h3.1M388.5 169.63h3.1M388.5 146.90h3.1M388.5 124.17h3.1M388.5 101.43h3.1M388.5 78.70h3.1M388.5 55.97h3.1M388.5 33.23h3.1" stroke-width="0.7"/><path d="M417.50 10.5v3.0M446.50 10.5v3.0M476.50 10.5v3.0M505.50 10.5v3.0M534.50 10.5v3.0M563.50 10.5v3.0M592.50 10.5v3.0M622.50 10.5v3.0M651.50 10.5v3.0M680.5 192.37h-3.0M680.5 169.63h-3.0M680.5 146.90h-3.0M680.5 124.17h-3.0M680.5 101.43h-3.0M680.5 78.70h-3.0M680.5 55.97h-3.0M680.5 33.23h-3.0" stroke-width="0.55"/>
</g>
<g fill="none" stroke-width="1.95" stroke-linecap="round" stroke-linejoin="round">
<path stroke="#ff0000" d="M388.79 196.47h0M389.08 194.26h0M389.38 192.11h0M389.67 190.01h0M389.96 187.97h0M390.25 185.97h0M390.54 184.03h0M390.84 182.13h0M391.13 180.28h0M391.42 178.48h0M391.71 176.72h0M392.00 175.00h0M392.30 173.33h0M392.59 171.70h0M392.88 170.11h0M393.17 168.56h0M393.46 167.05h0M393.76 165.57h0M394.05 164.14h0M394.34 162.73h0M394.63 161.37h0M394.92 160.05h0M395.22 158.78h0M395.51 157.54h0M395.80 156.35h0M396.09 155.19h0M396.38 154.07h0M396.68 152.99h0M396.97 151.94h0M397.26 150.92h0M397.55 149.94h0M397.84 148.98h0M398.14 148.05h0M398.43 147.14h0M398.72 146.27h0M399.01 145.41h0M399.30 144.58h0M399.60 143.77h0M399.89 142.98h0M400.18 142.21h0M400.47 141.46h0M400.76 140.72h0M401.06 140.00h0M401.35 139.29h0M401.64 138.59h0M401.93 137.91h0M402.22 137.23h0M402.52 136.56h0M402.81 135.90h0M403.10 135.25h0M403.39 134.61h0M403.68 133.99h0M403.98 133.38h0M404.27 132.78h0M404.56 132.20h0M404.85 131.64h0M405.14 131.09h0M405.44 130.56h0M405.73 130.04h0M406.02 129.53h0M406.31 129.03L406.90 128.06L407.48 127.11L408.06 126.20L408.65 125.31L409.23 124.45L409.82 123.62L410.40 122.82L410.98 122.05L411.57 121.31L412.15 120.61L412.74 119.94L413.32 119.31L413.90 118.72L414.49 118.16L415.07 117.64L415.66 117.17L416.24 116.73L416.82 116.34L417.41 115.99L417.99 115.69L418.58 115.42L419.16 115.16L419.74 114.92L420.33 114.71L420.91 114.51L421.50 114.33L422.08 114.16L422.66 114.01L423.25 113.88L423.83 113.76L424.42 113.66L425.00 113.57L425.58 113.50L426.17 113.43L426.75 113.38L427.34 113.34L427.92 113.31L428.50 113.30L429.09 113.29L429.67 113.29L430.26 113.31L430.84 113.33L431.42 113.36L432.01 113.40L432.59 113.45L433.18 113.50L433.76 113.56L434.34 113.63L434.93 113.71L435.51 113.79L436.10 113.89L436.68 113.98L437.26 114.08L437.85 114.19L438.43 114.30L439.02 114.42L439.60 114.55L440.18 114.67L440.77 114.81L441.35 114.94L441.94 115.08L442.52 115.23L443.10 115.38L443.69 115.53L444.27 115.69L444.86 115.85L445.44 116.01L446.02 116.17L446.61 116.34L447.19 116.51L447.78 116.69L448.36 116.86L448.94 117.04L449.53 117.22L450.11 117.41L450.70 117.59L451.28 117.78L451.86 117.97L452.45 118.16L453.03 118.35L453.62 118.55L454.20 118.74L454.78 118.94L455.37 119.14L455.95 119.33L456.54 119.53L457.12 119.74L457.70 119.94L458.29 120.14L458.87 120.34L459.46 120.55L460.04 120.75L460.62 120.96L461.21 121.17L461.79 121.37L462.38 121.58L462.96 121.79L463.54 121.99L464.13 122.20L464.71 122.41L465.30 122.62L465.88 122.83L466.46 123.04L467.05 123.24L467.63 123.45L468.22 123.66L468.80 123.87L469.38 124.08L469.97 124.29L470.55 124.49L471.14 124.70L471.72 124.91L472.30 125.12L472.89 125.32L473.47 125.53L474.06 125.74L474.64 125.94L475.22 126.15L475.81 126.35L476.39 126.56L476.98 126.76L477.56 126.96L478.14 127.16L478.73 127.37L479.31 127.57L479.90 127.77L480.48 127.97L481.06 128.17L481.65 128.37L482.23 128.56L482.82 128.76L483.40 128.96L483.98 129.15L484.57 129.35L485.15 129.54L485.74 129.74L486.32 129.93L486.90 130.12L487.49 130.31L488.07 130.50L488.66 130.69L489.24 130.88L489.82 131.07L490.41 131.25L490.99 131.44L491.58 131.62L492.16 131.81L492.74 131.99L493.33 132.17L493.91 132.35L494.50 132.53L495.08 132.71L495.66 132.89L496.25 133.07L496.83 133.25L497.42 133.42L498.00 133.60L498.58 133.77L499.17 133.94L499.75 134.11L500.34 134.28L500.92 134.45L501.50 134.62L502.09 134.79L502.67 134.96L503.26 135.12L503.84 135.29L504.42 135.45L505.01 135.61L505.59 135.78L506.18 135.94L506.76 136.10L507.34 136.26L507.93 136.41L508.51 136.57L509.10 136.73L509.68 136.88L510.26 137.04L510.85 137.19L511.43 137.34L512.02 137.49L512.60 137.64L513.18 137.79L513.77 137.94L514.35 138.09L514.94 138.23L515.52 138.38L516.10 138.52L516.69 138.67L517.27 138.81L517.86 138.95L518.44 139.09L519.02 139.23L519.61 139.37L520.19 139.51L520.78 139.64L521.36 139.78L521.94 139.91L522.53 140.05L523.11 140.18L523.70 140.31L524.28 140.44L524.86 140.57L525.45 140.70L526.03 140.83L526.62 140.96L527.20 141.09L527.78 141.21L528.37 141.34L528.95 141.46L529.54 141.58L530.12 141.70L530.70 141.83L531.29 141.95L531.87 142.07L532.46 142.18L533.04 142.30L533.62 142.42L534.21 142.53L534.79 142.65L535.38 142.76L535.96 142.88L536.54 142.99L537.13 143.10L537.71 143.21L538.30 143.32L538.88 143.43L539.46 143.54L540.05 143.65L540.63 143.76L541.22 143.86L541.80 143.97L542.38 144.07L542.97 144.18L543.55 144.28L544.14 144.38L544.72 144.48L545.30 144.58L545.89 144.68L546.47 144.78L547.06 144.88L547.64 144.98L548.22 145.08L548.81 145.17L549.39 145.27L549.98 145.36L550.56 145.46L551.14 145.55L551.73 145.64L552.31 145.73L552.90 145.82L553.48 145.92L554.06 146.00L554.65 146.09L555.23 146.18L555.82 146.27L556.40 146.36L556.98 146.44L557.57 146.53L558.15 146.61L558.74 146.70L559.32 146.78L559.90 146.87L560.49 146.95L561.07 147.03L561.66 147.11L562.24 147.19L562.82 147.27L563.41 147.35L563.99 147.43L564.58 147.51L565.16 147.58L565.74 147.66L566.33 147.74L566.91 147.81L567.50 147.89L568.08 147.96L568.66 148.04L569.25 148.11L569.83 148.18L570.42 148.25L571.00 148.32L571.58 148.40L572.17 148.47L572.75 148.54L573.34 148.60L573.92 148.67L574.50 148.74L575.09 148.81L575.67 148.88L576.26 148.94L576.84 149.01L577.42 149.07L578.01 149.14L578.59 149.20L579.18 149.27L579.76 149.33L580.34 149.39L580.93 149.46L581.51 149.52L582.10 149.58L582.68 149.64L583.26 149.70L583.85 149.76L584.43 149.82L585.02 149.88L585.60 149.94L586.18 150.00L586.77 150.05L587.35 150.11L587.94 150.17L588.52 150.22L589.10 150.28L589.69 150.33L590.27 150.39L590.86 150.44L591.44 150.50L592.02 150.55L592.61 150.60L593.19 150.66L593.78 150.71L594.36 150.76L594.94 150.81L595.53 150.86L596.11 150.91L596.70 150.96L597.28 151.01L597.86 151.06L598.45 151.11L599.03 151.16L599.62 151.21L600.20 151.26L600.78 151.30L601.37 151.35L601.95 151.40L602.54 151.44L603.12 151.49L603.70 151.53L604.29 151.58L604.87 151.62L605.46 151.67L606.04 151.71L606.62 151.76L607.21 151.80L607.79 151.84L608.38 151.88L608.96 151.93L609.54 151.97L610.13 152.01L610.71 152.05L611.30 152.09L611.88 152.13L612.46 152.17L613.05 152.21L613.63 152.25L614.22 152.29L614.80 152.33L615.38 152.37L615.97 152.41L616.55 152.45L617.14 152.48L617.72 152.52L618.30 152.56L618.89 152.59L619.47 152.63L620.06 152.67L620.64 152.70L621.22 152.74L621.81 152.77L622.39 152.81L622.98 152.84L623.56 152.88L624.14 152.91L624.73 152.95L625.31 152.98L625.90 153.01L626.48 153.05L627.06 153.08L627.65 153.11L628.23 153.14L628.82 153.17L629.40 153.21L629.98 153.24L630.57 153.27L631.15 153.30L631.74 153.33L632.32 153.36L632.90 153.39L633.49 153.42L634.07 153.45L634.66 153.48L635.24 153.51L635.82 153.54L636.41 153.57L636.99 153.59L637.58 153.62L638.16 153.65L638.74 153.68L639.33 153.71L639.91 153.73L640.50 153.76L641.08 153.79L641.66 153.81L642.25 153.84L642.83 153.87L643.42 153.89L644.00 153.92L644.58 153.94L645.17 153.97L645.75 153.99L646.34 154.02L646.92 154.04L647.50 154.07L648.09 154.09L648.67 154.12L649.26 154.14L649.84 154.16L650.42 154.19L651.01 154.21L651.59 154.23L652.18 154.26L652.76 154.28L653.34 154.30L653.93 154.33L654.51 154.35L655.10 154.37L655.68 154.39L656.26 154.41L656.85 154.43L657.43 154.46L658.02 154.48L658.60 154.50L659.18 154.52L659.77 154.54L660.35 154.56L660.94 154.58L661.52 154.60L662.10 154.62L662.69 154.64L663.27 154.66L663.86 154.68L664.44 154.70L665.02 154.72L665.61 154.74L666.19 154.76L666.78 154.77L667.36 154.79L667.94 154.81L668.53 154.83L669.11 154.85L669.70 154.86L670.28 154.88L670.86 154.90L671.45 154.92L672.03 154.93L672.62 154.95L673.20 154.97L673.78 154.99L674.37 155.00L674.95 155.02L675.54 155.04L676.12 155.05L676.70 155.07L677.29 155.08L677.87 155.10L678.46 155.12L679.04 155.13L679.62 155.15L680.21 155.16L680.50 155.17"/>
<path stroke="#000000" d="M388.79 198.42h0M389.08 194.73h0M389.38 191.19h0M389.67 187.79h0M389.96 184.54h0M390.25 181.41h0M390.54 178.41h0M390.84 175.52h0M391.13 172.74h0M391.42 170.06h0M391.71 167.48h0M392.00 164.98h0M392.30 162.58h0M392.59 160.26h0M392.88 158.01h0M393.17 155.84h0M393.46 153.74h0M393.76 151.70h0M394.05 149.73h0M394.34 147.82h0M394.63 145.97h0M394.92 144.17h0M395.22 142.43h0M395.51 140.73h0M395.80 139.09h0M396.09 137.49h0M396.38 135.93h0M396.68 134.42h0M396.97 132.95h0M397.26 131.52h0M397.55 130.13h0M397.84 128.78h0M398.14 127.46h0M398.43 126.17h0M398.72 124.92h0M399.01 123.70h0M399.30 122.51h0M399.60 121.36h0M399.89 120.23h0M400.18 119.13h0M400.47 118.06h0M400.76 117.01h0M401.06 115.99h0M401.35 115.00h0M401.64 114.03h0M401.93 113.08h0M402.22 112.16h0M402.52 111.26h0M402.81 110.39h0M403.10 109.53h0M403.39 108.70h0M403.68 107.89h0M403.98 107.09h0M404.27 106.32h0M404.56 105.57h0M404.85 104.83h0M405.14 104.12h0M405.44 103.42h0M405.73 102.74h0M406.02 102.08h0M406.31 101.43L406.90 100.19L407.48 99.01L408.06 97.90L408.65 96.84L409.23 95.84L409.82 94.90L410.40 94.01L410.98 93.16L411.57 92.37L412.15 91.63L412.74 90.92L413.32 90.27L413.90 89.65L414.49 89.08L415.07 88.55L415.66 88.05L416.24 87.59L416.82 87.16L417.41 86.77L417.99 86.41L418.58 86.09L419.16 85.79L419.74 85.52L420.33 85.29L420.91 85.07L421.50 84.89L422.08 84.73L422.66 84.59L423.25 84.48L423.83 84.39L424.42 84.33L425.00 84.28L425.58 84.25L426.17 84.25L426.75 84.26L427.34 84.29L427.92 84.34L428.50 84.40L429.09 84.48L429.67 84.58L430.26 84.69L430.84 84.82L431.42 84.96L432.01 85.11L432.59 85.27L433.18 85.45L433.76 85.64L434.34 85.84L434.93 86.05L435.51 86.27L436.10 86.50L436.68 86.74L437.26 86.99L437.85 87.25L438.43 87.51L439.02 87.79L439.60 88.07L440.18 88.36L440.77 88.65L441.35 88.95L441.94 89.26L442.52 89.58L443.10 89.90L443.69 90.22L444.27 90.55L444.86 90.89L445.44 91.23L446.02 91.57L446.61 91.92L447.19 92.27L447.78 92.62L448.36 92.98L448.94 93.34L449.53 93.71L450.11 94.08L450.70 94.45L451.28 94.82L451.86 95.19L452.45 95.57L453.03 95.95L453.62 96.33L454.20 96.71L454.78 97.10L455.37 97.48L455.95 97.87L456.54 98.26L457.12 98.65L457.70 99.03L458.29 99.42L458.87 99.81L459.46 100.21L460.04 100.60L460.62 100.99L461.21 101.38L461.79 101.77L462.38 102.16L462.96 102.56L463.54 102.95L464.13 103.34L464.71 103.73L465.30 104.12L465.88 104.51L466.46 104.90L467.05 105.29L467.63 105.68L468.22 106.07L468.80 106.45L469.38 106.84L469.97 107.22L470.55 107.61L471.14 107.99L471.72 108.37L472.30 108.75L472.89 109.13L473.47 109.51L474.06 109.89L474.64 110.27L475.22 110.64L475.81 111.02L476.39 111.39L476.98 111.76L477.56 112.13L478.14 112.50L478.73 112.86L479.31 113.23L479.90 113.59L480.48 113.95L481.06 114.31L481.65 114.67L482.23 115.03L482.82 115.38L483.40 115.74L483.98 116.09L484.57 116.44L485.15 116.79L485.74 117.13L486.32 117.48L486.90 117.82L487.49 118.16L488.07 118.50L488.66 118.84L489.24 119.18L489.82 119.51L490.41 119.85L490.99 120.18L491.58 120.51L492.16 120.83L492.74 121.16L493.33 121.48L493.91 121.80L494.50 122.12L495.08 122.44L495.66 122.76L496.25 123.07L496.83 123.39L497.42 123.70L498.00 124.01L498.58 124.31L499.17 124.62L499.75 124.92L500.34 125.22L500.92 125.52L501.50 125.82L502.09 126.12L502.67 126.41L503.26 126.70L503.84 126.99L504.42 127.28L505.01 127.57L505.59 127.85L506.18 128.14L506.76 128.42L507.34 128.70L507.93 128.98L508.51 129.25L509.10 129.53L509.68 129.80L510.26 130.07L510.85 130.34L511.43 130.61L512.02 130.87L512.60 131.14L513.18 131.40L513.77 131.66L514.35 131.92L514.94 132.17L515.52 132.43L516.10 132.68L516.69 132.93L517.27 133.18L517.86 133.43L518.44 133.68L519.02 133.93L519.61 134.17L520.19 134.41L520.78 134.65L521.36 134.89L521.94 135.13L522.53 135.36L523.11 135.59L523.70 135.83L524.28 136.06L524.86 136.29L525.45 136.51L526.03 136.74L526.62 136.96L527.20 137.19L527.78 137.41L528.37 137.63L528.95 137.84L529.54 138.06L530.12 138.27L530.70 138.49L531.29 138.70L531.87 138.91L532.46 139.12L533.04 139.33L533.62 139.53L534.21 139.74L534.79 139.94L535.38 140.14L535.96 140.34L536.54 140.54L537.13 140.74L537.71 140.94L538.30 141.13L538.88 141.32L539.46 141.52L540.05 141.71L540.63 141.90L541.22 142.08L541.80 142.27L542.38 142.45L542.97 142.64L543.55 142.82L544.14 143.00L544.72 143.18L545.30 143.36L545.89 143.54L546.47 143.71L547.06 143.89L547.64 144.06L548.22 144.24L548.81 144.41L549.39 144.58L549.98 144.75L550.56 144.91L551.14 145.08L551.73 145.24L552.31 145.41L552.90 145.57L553.48 145.73L554.06 145.89L554.65 146.05L555.23 146.21L555.82 146.37L556.40 146.52L556.98 146.68L557.57 146.83L558.15 146.98L558.74 147.14L559.32 147.29L559.90 147.43L560.49 147.58L561.07 147.73L561.66 147.88L562.24 148.02L562.82 148.16L563.41 148.31L563.99 148.45L564.58 148.59L565.16 148.73L565.74 148.87L566.33 149.01L566.91 149.14L567.50 149.28L568.08 149.41L568.66 149.55L569.25 149.68L569.83 149.81L570.42 149.94L571.00 150.07L571.58 150.20L572.17 150.33L572.75 150.46L573.34 150.58L573.92 150.71L574.50 150.83L575.09 150.96L575.67 151.08L576.26 151.20L576.84 151.32L577.42 151.44L578.01 151.56L578.59 151.68L579.18 151.79L579.76 151.91L580.34 152.03L580.93 152.14L581.51 152.25L582.10 152.37L582.68 152.48L583.26 152.59L583.85 152.70L584.43 152.81L585.02 152.92L585.60 153.03L586.18 153.14L586.77 153.24L587.35 153.35L587.94 153.45L588.52 153.56L589.10 153.66L589.69 153.76L590.27 153.87L590.86 153.97L591.44 154.07L592.02 154.17L592.61 154.27L593.19 154.36L593.78 154.46L594.36 154.56L594.94 154.66L595.53 154.75L596.11 154.85L596.70 154.94L597.28 155.03L597.86 155.13L598.45 155.22L599.03 155.31L599.62 155.40L600.20 155.49L600.78 155.58L601.37 155.67L601.95 155.76L602.54 155.84L603.12 155.93L603.70 156.02L604.29 156.10L604.87 156.19L605.46 156.27L606.04 156.35L606.62 156.44L607.21 156.52L607.79 156.60L608.38 156.68L608.96 156.76L609.54 156.84L610.13 156.92L610.71 157.00L611.30 157.08L611.88 157.16L612.46 157.23L613.05 157.31L613.63 157.39L614.22 157.46L614.80 157.54L615.38 157.61L615.97 157.69L616.55 157.76L617.14 157.83L617.72 157.90L618.30 157.98L618.89 158.05L619.47 158.12L620.06 158.19L620.64 158.26L621.22 158.33L621.81 158.39L622.39 158.46L622.98 158.53L623.56 158.60L624.14 158.66L624.73 158.73L625.31 158.79L625.90 158.86L626.48 158.92L627.06 158.99L627.65 159.05L628.23 159.12L628.82 159.18L629.40 159.24L629.98 159.30L630.57 159.36L631.15 159.42L631.74 159.49L632.32 159.55L632.90 159.60L633.49 159.66L634.07 159.72L634.66 159.78L635.24 159.84L635.82 159.90L636.41 159.95L636.99 160.01L637.58 160.07L638.16 160.12L638.74 160.18L639.33 160.23L639.91 160.29L640.50 160.34L641.08 160.39L641.66 160.45L642.25 160.50L642.83 160.55L643.42 160.61L644.00 160.66L644.58 160.71L645.17 160.76L645.75 160.81L646.34 160.86L646.92 160.91L647.50 160.96L648.09 161.01L648.67 161.06L649.26 161.11L649.84 161.15L650.42 161.20L651.01 161.25L651.59 161.30L652.18 161.34L652.76 161.39L653.34 161.44L653.93 161.48L654.51 161.53L655.10 161.57L655.68 161.62L656.26 161.66L656.85 161.71L657.43 161.75L658.02 161.79L658.60 161.84L659.18 161.88L659.77 161.92L660.35 161.96L660.94 162.00L661.52 162.05L662.10 162.09L662.69 162.13L663.27 162.17L663.86 162.21L664.44 162.25L665.02 162.29L665.61 162.33L666.19 162.37L666.78 162.41L667.36 162.44L667.94 162.48L668.53 162.52L669.11 162.56L669.70 162.60L670.28 162.63L670.86 162.67L671.45 162.71L672.03 162.74L672.62 162.78L673.20 162.81L673.78 162.85L674.37 162.89L674.95 162.92L675.54 162.96L676.12 162.99L676.70 163.02L677.29 163.06L677.87 163.09L678.46 163.13L679.04 163.16L679.62 163.19L680.21 163.22L680.50 163.24"/>
<path stroke="#0000ff" d="M388.79 200.32h0M389.08 190.22h0M389.38 184.08h0M389.67 179.65h0M389.96 175.98h0M390.25 172.67h0M390.54 169.54h0M390.84 166.53h0M391.13 163.61h0M391.42 160.75h0M391.71 157.96h0M392.00 155.23h0M392.30 152.56h0M392.59 149.94h0M392.88 147.38h0M393.17 144.88h0M393.46 142.42h0M393.76 140.03h0M394.05 137.68h0M394.34 135.39h0M394.63 133.14h0M394.92 130.94h0M395.22 128.80h0M395.51 126.70h0M395.80 124.64h0M396.09 122.63h0M396.38 120.67h0M396.68 118.75h0M396.97 116.88h0M397.26 115.04h0M397.55 113.25h0M397.84 111.50h0M398.14 109.79h0M398.43 108.12h0M398.72 106.48h0M399.01 104.89h0M399.30 103.33h0M399.60 101.81h0M399.89 100.33h0M400.18 98.88h0M400.47 97.46h0M400.76 96.08h0M401.06 94.73h0M401.35 93.42h0M401.64 92.14h0M401.93 90.88h0M402.22 89.66h0M402.52 88.48h0M402.81 87.32h0M403.10 86.19h0M403.39 85.08h0M403.68 84.01h0M403.98 82.97h0M404.27 81.95h0M404.56 80.97h0M404.85 80.01h0M405.14 79.07h0M405.44 78.17h0M405.73 77.28h0M406.02 76.43h0M406.31 75.60L406.90 74.00L407.48 72.50L408.06 71.09L408.65 69.76L409.23 68.52L409.82 67.35L410.40 66.26L410.98 65.24L411.57 64.29L412.15 63.40L412.74 62.58L413.32 61.81L413.90 61.11L414.49 60.46L415.07 59.86L415.66 59.31L416.24 58.81L416.82 58.36L417.41 57.95L417.99 57.58L418.58 57.25L419.16 56.96L419.74 56.71L420.33 56.51L420.91 56.33L421.50 56.20L422.08 56.10L422.66 56.03L423.25 55.99L423.83 55.98L424.42 56.00L425.00 56.05L425.58 56.12L426.17 56.22L426.75 56.35L427.34 56.49L427.92 56.66L428.50 56.85L429.09 57.06L429.67 57.29L430.26 57.54L430.84 57.81L431.42 58.09L432.01 58.39L432.59 58.71L433.18 59.04L433.76 59.39L434.34 59.74L434.93 60.12L435.51 60.50L436.10 60.89L436.68 61.30L437.26 61.72L437.85 62.14L438.43 62.58L439.02 63.03L439.60 63.48L440.18 63.94L440.77 64.41L441.35 64.89L441.94 65.37L442.52 65.86L443.10 66.36L443.69 66.86L444.27 67.36L444.86 67.88L445.44 68.39L446.02 68.91L446.61 69.44L447.19 69.97L447.78 70.50L448.36 71.04L448.94 71.57L449.53 72.12L450.11 72.66L450.70 73.21L451.28 73.75L451.86 74.30L452.45 74.86L453.03 75.41L453.62 75.96L454.20 76.52L454.78 77.08L455.37 77.63L455.95 78.19L456.54 78.75L457.12 79.31L457.70 79.86L458.29 80.42L458.87 80.98L459.46 81.54L460.04 82.10L460.62 82.65L461.21 83.21L461.79 83.77L462.38 84.32L462.96 84.88L463.54 85.43L464.13 85.98L464.71 86.53L465.30 87.07L465.88 87.62L466.46 88.16L467.05 88.70L467.63 89.24L468.22 89.78L468.80 90.32L469.38 90.85L469.97 91.39L470.55 91.92L471.14 92.44L471.72 92.97L472.30 93.49L472.89 94.01L473.47 94.53L474.06 95.05L474.64 95.56L475.22 96.08L475.81 96.58L476.39 97.09L476.98 97.60L477.56 98.10L478.14 98.60L478.73 99.10L479.31 99.59L479.90 100.09L480.48 100.58L481.06 101.06L481.65 101.55L482.23 102.03L482.82 102.51L483.40 102.99L483.98 103.47L484.57 103.94L485.15 104.41L485.74 104.88L486.32 105.34L486.90 105.81L487.49 106.27L488.07 106.73L488.66 107.18L489.24 107.64L489.82 108.09L490.41 108.54L490.99 108.98L491.58 109.43L492.16 109.87L492.74 110.31L493.33 110.75L493.91 111.18L494.50 111.61L495.08 112.04L495.66 112.47L496.25 112.90L496.83 113.32L497.42 113.74L498.00 114.16L498.58 114.58L499.17 114.99L499.75 115.41L500.34 115.82L500.92 116.22L501.50 116.63L502.09 117.04L502.67 117.44L503.26 117.84L503.84 118.24L504.42 118.63L505.01 119.03L505.59 119.42L506.18 119.81L506.76 120.20L507.34 120.58L507.93 120.96L508.51 121.34L509.10 121.72L509.68 122.10L510.26 122.47L510.85 122.84L511.43 123.21L512.02 123.58L512.60 123.94L513.18 124.30L513.77 124.66L514.35 125.02L514.94 125.37L515.52 125.73L516.10 126.08L516.69 126.42L517.27 126.77L517.86 127.11L518.44 127.46L519.02 127.79L519.61 128.13L520.19 128.47L520.78 128.80L521.36 129.13L521.94 129.46L522.53 129.79L523.11 130.11L523.70 130.43L524.28 130.75L524.86 131.07L525.45 131.39L526.03 131.70L526.62 132.01L527.20 132.32L527.78 132.63L528.37 132.94L528.95 133.24L529.54 133.54L530.12 133.84L530.70 134.14L531.29 134.44L531.87 134.73L532.46 135.02L533.04 135.31L533.62 135.60L534.21 135.89L534.79 136.17L535.38 136.45L535.96 136.74L536.54 137.01L537.13 137.29L537.71 137.57L538.30 137.84L538.88 138.11L539.46 138.38L540.05 138.65L540.63 138.92L541.22 139.18L541.80 139.44L542.38 139.71L542.97 139.97L543.55 140.22L544.14 140.48L544.72 140.73L545.30 140.99L545.89 141.24L546.47 141.49L547.06 141.73L547.64 141.98L548.22 142.23L548.81 142.47L549.39 142.71L549.98 142.95L550.56 143.19L551.14 143.42L551.73 143.66L552.31 143.89L552.90 144.12L553.48 144.35L554.06 144.58L554.65 144.81L555.23 145.04L555.82 145.26L556.40 145.48L556.98 145.70L557.57 145.92L558.15 146.14L558.74 146.36L559.32 146.57L559.90 146.79L560.49 147.00L561.07 147.21L561.66 147.42L562.24 147.63L562.82 147.84L563.41 148.04L563.99 148.25L564.58 148.45L565.16 148.65L565.74 148.85L566.33 149.05L566.91 149.25L567.50 149.44L568.08 149.64L568.66 149.83L569.25 150.03L569.83 150.22L570.42 150.41L571.00 150.59L571.58 150.78L572.17 150.97L572.75 151.15L573.34 151.34L573.92 151.52L574.50 151.70L575.09 151.88L575.67 152.06L576.26 152.24L576.84 152.41L577.42 152.59L578.01 152.76L578.59 152.93L579.18 153.11L579.76 153.28L580.34 153.45L580.93 153.61L581.51 153.78L582.10 153.95L582.68 154.11L583.26 154.28L583.85 154.44L584.43 154.60L585.02 154.76L585.60 154.92L586.18 155.08L586.77 155.24L587.35 155.39L587.94 155.55L588.52 155.70L589.10 155.86L589.69 156.01L590.27 156.16L590.86 156.31L591.44 156.46L592.02 156.61L592.61 156.75L593.19 156.90L593.78 157.05L594.36 157.19L594.94 157.33L595.53 157.48L596.11 157.62L596.70 157.76L597.28 157.90L597.86 158.03L598.45 158.17L599.03 158.31L599.62 158.45L600.20 158.58L600.78 158.71L601.37 158.85L601.95 158.98L602.54 159.11L603.12 159.24L603.70 159.37L604.29 159.50L604.87 159.63L605.46 159.75L606.04 159.88L606.62 160.01L607.21 160.13L607.79 160.25L608.38 160.38L608.96 160.50L609.54 160.62L610.13 160.74L610.71 160.86L611.30 160.98L611.88 161.10L612.46 161.21L613.05 161.33L613.63 161.45L614.22 161.56L614.80 161.68L615.38 161.79L615.97 161.90L616.55 162.01L617.14 162.12L617.72 162.23L618.30 162.34L618.89 162.45L619.47 162.56L620.06 162.67L620.64 162.78L621.22 162.88L621.81 162.99L622.39 163.09L622.98 163.19L623.56 163.30L624.14 163.40L624.73 163.50L625.31 163.60L625.90 163.70L626.48 163.80L627.06 163.90L627.65 164.00L628.23 164.10L628.82 164.20L629.40 164.29L629.98 164.39L630.57 164.48L631.15 164.58L631.74 164.67L632.32 164.77L632.90 164.86L633.49 164.95L634.07 165.04L634.66 165.13L635.24 165.22L635.82 165.31L636.41 165.40L636.99 165.49L637.58 165.58L638.16 165.67L638.74 165.75L639.33 165.84L639.91 165.92L640.50 166.01L641.08 166.09L641.66 166.18L642.25 166.26L642.83 166.34L643.42 166.42L644.00 166.51L644.58 166.59L645.17 166.67L645.75 166.75L646.34 166.83L646.92 166.91L647.50 166.98L648.09 167.06L648.67 167.14L649.26 167.22L649.84 167.29L650.42 167.37L651.01 167.44L651.59 167.52L652.18 167.59L652.76 167.67L653.34 167.74L653.93 167.81L654.51 167.89L655.10 167.96L655.68 168.03L656.26 168.10L656.85 168.17L657.43 168.24L658.02 168.31L658.60 168.38L659.18 168.45L659.77 168.52L660.35 168.58L660.94 168.65L661.52 168.72L662.10 168.78L662.69 168.85L663.27 168.91L663.86 168.98L664.44 169.04L665.02 169.11L665.61 169.17L666.19 169.24L666.78 169.30L667.36 169.36L667.94 169.42L668.53 169.48L669.11 169.55L669.70 169.61L670.28 169.67L670.86 169.73L671.45 169.79L672.03 169.84L672.62 169.90L673.20 169.96L673.78 170.02L674.37 170.08L674.95 170.13L675.54 170.19L676.12 170.25L676.70 170.30L677.29 170.36L677.87 170.42L678.46 170.47L679.04 170.52L679.62 170.58L680.21 170.63L680.50 170.66"/>
<path stroke="#00ff00" d="M388.79 202.37h0M389.08 189.88h0M389.38 181.68h0M389.67 175.69h0M389.96 170.85h0M390.25 166.63h0M390.54 162.76h0M390.84 159.10h0M391.13 155.59h0M391.42 152.18h0M391.71 148.86h0M392.00 145.62h0M392.30 142.46h0M392.59 139.36h0M392.88 136.33h0M393.17 133.37h0M393.46 130.47h0M393.76 127.63h0M394.05 124.85h0M394.34 122.14h0M394.63 119.48h0M394.92 116.88h0M395.22 114.34h0M395.51 111.86h0M395.80 109.43h0M396.09 107.06h0M396.38 104.73h0M396.68 102.46h0M396.97 100.25h0M397.26 98.08h0M397.55 95.96h0M397.84 93.89h0M398.14 91.87h0M398.43 89.89h0M398.72 87.97h0M399.01 86.08h0M399.30 84.24h0M399.60 82.45h0M399.89 80.69h0M400.18 78.98h0M400.47 77.31h0M400.76 75.68h0M401.06 74.09h0M401.35 72.54h0M401.64 71.03h0M401.93 69.55h0M402.22 68.11h0M402.52 66.71h0M402.81 65.35h0M403.10 64.01h0M403.39 62.72h0M403.68 61.45h0M403.98 60.23h0M404.27 59.03h0M404.56 57.87h0M404.85 56.74h0M405.14 55.64h0M405.44 54.57h0M405.73 53.54h0M406.02 52.53h0M406.31 51.55L406.90 49.68L407.48 47.92L408.06 46.26L408.65 44.71L409.23 43.25L409.82 41.88L410.40 40.61L410.98 39.42L411.57 38.31L412.15 37.28L412.74 36.33L413.32 35.45L413.90 34.64L414.49 33.89L415.07 33.21L415.66 32.59L416.24 32.03L416.82 31.52L417.41 31.06L417.99 30.65L418.58 30.30L419.16 29.99L419.74 29.73L420.33 29.52L420.91 29.35L421.50 29.23L422.08 29.14L422.66 29.10L423.25 29.09L423.83 29.11L424.42 29.18L425.00 29.27L425.58 29.40L426.17 29.56L426.75 29.74L427.34 29.96L427.92 30.20L428.50 30.47L429.09 30.76L429.67 31.07L430.26 31.41L430.84 31.77L431.42 32.15L432.01 32.55L432.59 32.97L433.18 33.40L433.76 33.85L434.34 34.32L434.93 34.81L435.51 35.31L436.10 35.82L436.68 36.34L437.26 36.88L437.85 37.43L438.43 38.00L439.02 38.57L439.60 39.15L440.18 39.75L440.77 40.35L441.35 40.96L441.94 41.58L442.52 42.21L443.10 42.84L443.69 43.48L444.27 44.13L444.86 44.79L445.44 45.45L446.02 46.11L446.61 46.78L447.19 47.45L447.78 48.13L448.36 48.81L448.94 49.50L449.53 50.19L450.11 50.88L450.70 51.58L451.28 52.27L451.86 52.97L452.45 53.67L453.03 54.38L453.62 55.08L454.20 55.79L454.78 56.49L455.37 57.20L455.95 57.91L456.54 58.62L457.12 59.33L457.70 60.04L458.29 60.75L458.87 61.46L459.46 62.16L460.04 62.87L460.62 63.58L461.21 64.29L461.79 64.99L462.38 65.70L462.96 66.40L463.54 67.10L464.13 67.80L464.71 68.50L465.30 69.19L465.88 69.89L466.46 70.58L467.05 71.27L467.63 71.95L468.22 72.64L468.80 73.32L469.38 74.00L469.97 74.68L470.55 75.35L471.14 76.02L471.72 76.69L472.30 77.36L472.89 78.02L473.47 78.69L474.06 79.34L474.64 80.00L475.22 80.65L475.81 81.30L476.39 81.95L476.98 82.59L477.56 83.23L478.14 83.87L478.73 84.51L479.31 85.14L479.90 85.77L480.48 86.39L481.06 87.02L481.65 87.64L482.23 88.25L482.82 88.87L483.40 89.48L483.98 90.09L484.57 90.69L485.15 91.29L485.74 91.89L486.32 92.49L486.90 93.08L487.49 93.67L488.07 94.26L488.66 94.84L489.24 95.42L489.82 96.00L490.41 96.57L490.99 97.14L491.58 97.71L492.16 98.28L492.74 98.84L493.33 99.40L493.91 99.95L494.50 100.51L495.08 101.06L495.66 101.60L496.25 102.15L496.83 102.69L497.42 103.23L498.00 103.77L498.58 104.30L499.17 104.83L499.75 105.36L500.34 105.88L500.92 106.41L501.50 106.93L502.09 107.44L502.67 107.96L503.26 108.47L503.84 108.98L504.42 109.48L505.01 109.99L505.59 110.49L506.18 110.99L506.76 111.48L507.34 111.98L507.93 112.47L508.51 112.95L509.10 113.44L509.68 113.92L510.26 114.39L510.85 114.87L511.43 115.34L512.02 115.81L512.60 116.27L513.18 116.74L513.77 117.20L514.35 117.65L514.94 118.11L515.52 118.56L516.10 119.01L516.69 119.46L517.27 119.90L517.86 120.34L518.44 120.78L519.02 121.21L519.61 121.64L520.19 122.07L520.78 122.50L521.36 122.92L521.94 123.35L522.53 123.77L523.11 124.18L523.70 124.59L524.28 125.01L524.86 125.41L525.45 125.82L526.03 126.22L526.62 126.62L527.20 127.02L527.78 127.42L528.37 127.81L528.95 128.20L529.54 128.59L530.12 128.97L530.70 129.36L531.29 129.74L531.87 130.12L532.46 130.49L533.04 130.86L533.62 131.24L534.21 131.60L534.79 131.97L535.38 132.33L535.96 132.70L536.54 133.06L537.13 133.41L537.71 133.77L538.30 134.12L538.88 134.47L539.46 134.82L540.05 135.16L540.63 135.51L541.22 135.85L541.80 136.19L542.38 136.52L542.97 136.86L543.55 137.19L544.14 137.52L544.72 137.85L545.30 138.17L545.89 138.50L546.47 138.82L547.06 139.14L547.64 139.46L548.22 139.77L548.81 140.08L549.39 140.40L549.98 140.71L550.56 141.01L551.14 141.32L551.73 141.62L552.31 141.92L552.90 142.22L553.48 142.52L554.06 142.82L554.65 143.11L555.23 143.40L555.82 143.69L556.40 143.98L556.98 144.27L557.57 144.55L558.15 144.83L558.74 145.11L559.32 145.39L559.90 145.67L560.49 145.94L561.07 146.22L561.66 146.49L562.24 146.76L562.82 147.03L563.41 147.29L563.99 147.56L564.58 147.82L565.16 148.08L565.74 148.34L566.33 148.60L566.91 148.85L567.50 149.11L568.08 149.36L568.66 149.61L569.25 149.86L569.83 150.11L570.42 150.36L571.00 150.60L571.58 150.84L572.17 151.08L572.75 151.32L573.34 151.56L573.92 151.80L574.50 152.03L575.09 152.27L575.67 152.50L576.26 152.73L576.84 152.96L577.42 153.19L578.01 153.41L578.59 153.64L579.18 153.86L579.76 154.08L580.34 154.30L580.93 154.52L581.51 154.74L582.10 154.96L582.68 155.17L583.26 155.38L583.85 155.59L584.43 155.81L585.02 156.01L585.60 156.22L586.18 156.43L586.77 156.63L587.35 156.84L587.94 157.04L588.52 157.24L589.10 157.44L589.69 157.64L590.27 157.83L590.86 158.03L591.44 158.22L592.02 158.42L592.61 158.61L593.19 158.80L593.78 158.99L594.36 159.18L594.94 159.36L595.53 159.55L596.11 159.74L596.70 159.92L597.28 160.10L597.86 160.28L598.45 160.46L599.03 160.64L599.62 160.82L600.20 160.99L600.78 161.17L601.37 161.34L601.95 161.51L602.54 161.69L603.12 161.86L603.70 162.03L604.29 162.19L604.87 162.36L605.46 162.53L606.04 162.69L606.62 162.86L607.21 163.02L607.79 163.18L608.38 163.34L608.96 163.50L609.54 163.66L610.13 163.82L610.71 163.97L611.30 164.13L611.88 164.28L612.46 164.44L613.05 164.59L613.63 164.74L614.22 164.89L614.80 165.04L615.38 165.19L615.97 165.34L616.55 165.48L617.14 165.63L617.72 165.77L618.30 165.92L618.89 166.06L619.47 166.20L620.06 166.34L620.64 166.48L621.22 166.62L621.81 166.76L622.39 166.90L622.98 167.04L623.56 167.17L624.14 167.31L624.73 167.44L625.31 167.57L625.90 167.70L626.48 167.83L627.06 167.97L627.65 168.09L628.23 168.22L628.82 168.35L629.40 168.48L629.98 168.60L630.57 168.73L631.15 168.85L631.74 168.98L632.32 169.10L632.90 169.22L633.49 169.34L634.07 169.46L634.66 169.58L635.24 169.70L635.82 169.82L636.41 169.94L636.99 170.05L637.58 170.17L638.16 170.28L638.74 170.40L639.33 170.51L639.91 170.62L640.50 170.74L641.08 170.85L641.66 170.96L642.25 171.07L642.83 171.18L643.42 171.29L644.00 171.39L644.58 171.50L645.17 171.61L645.75 171.71L646.34 171.82L646.92 171.92L647.50 172.02L648.09 172.13L648.67 172.23L649.26 172.33L649.84 172.43L650.42 172.53L651.01 172.63L651.59 172.73L652.18 172.83L652.76 172.93L653.34 173.02L653.93 173.12L654.51 173.21L655.10 173.31L655.68 173.40L656.26 173.50L656.85 173.59L657.43 173.68L658.02 173.78L658.60 173.87L659.18 173.96L659.77 174.05L660.35 174.14L660.94 174.23L661.52 174.31L662.10 174.40L662.69 174.49L663.27 174.58L663.86 174.66L664.44 174.75L665.02 174.83L665.61 174.92L666.19 175.00L666.78 175.08L667.36 175.17L667.94 175.25L668.53 175.33L669.11 175.41L669.70 175.49L670.28 175.57L670.86 175.65L671.45 175.73L672.03 175.81L672.62 175.89L673.20 175.97L673.78 176.04L674.37 176.12L674.95 176.20L675.54 176.27L676.12 176.35L676.70 176.42L677.29 176.49L677.87 176.57L678.46 176.64L679.04 176.71L679.62 176.79L680.21 176.86L680.50 176.89"/>
</g>
<g fill="none" stroke-width="1.95" stroke-linecap="round"><path stroke="#00ff00" d="M388.50 146.90h0"/></g>
<g font-family="Liberation Sans, sans-serif" font-size="8.3" fill="#111" stroke="#111" stroke-width="0.22">
<text x="388.50" y="226.70" text-anchor="middle">0</text>
<text x="417.70" y="226.70" text-anchor="middle">1</text>
<text x="446.90" y="226.70" text-anchor="middle">2</text>
<text x="476.10" y="226.70" text-anchor="middle">3</text>
<text x="505.30" y="226.70" text-anchor="middle">4</text>
<text x="534.50" y="226.70" text-anchor="middle">5</text>
<text x="563.70" y="226.70" text-anchor="middle">6</text>
<text x="592.90" y="226.70" text-anchor="middle">7</text>
<text x="622.10" y="226.70" text-anchor="middle">8</text>
<text x="651.30" y="226.70" text-anchor="middle">9</text>
<text x="680.50" y="226.70" text-anchor="middle">10</text>
<text x="384.20" y="218.45" text-anchor="end">0.57</text>
<text x="384.20" y="195.72" text-anchor="end">0.58</text>
<text x="384.20" y="172.98" text-anchor="end">0.59</text>
<text x="384.20" y="150.25" text-anchor="end">0.6</text>
<text x="384.20" y="127.52" text-anchor="end">0.61</text>
<text x="384.20" y="104.78" text-anchor="end">0.62</text>
<text x="384.20" y="82.05" text-anchor="end">0.63</text>
<text x="384.20" y="59.32" text-anchor="end">0.64</text>
<text x="384.20" y="36.58" text-anchor="end">0.65</text>
<text x="384.20" y="13.85" text-anchor="end">0.66</text>
</g>
<g font-family="Liberation Sans, sans-serif" fill="#262626" stroke="#262626" stroke-width="0.22" text-anchor="middle">
<text x="534.50" y="237.70" font-size="9.1" textLength="22.2" lengthAdjust="spacingAndGlyphs">Time</text>
<text transform="translate(362.00 113.00) rotate(-90) scale(1 1.03)" font-size="9.0">C(t)</text>
<text x="534.50" y="6.60" font-size="8.8" font-weight="bold" fill="#000" stroke="#000" stroke-width="0.2" textLength="83.4" lengthAdjust="spacingAndGlyphs">Proposed Method</text>
</g>
<rect x="613.60" y="16.90" width="59.60" height="41.10" fill="#fff" stroke="#262626" stroke-width="0.5"/>
<circle cx="629.80" cy="22.95" r="0.95" fill="#ff0000"/>
<text x="669.90" y="26.05" text-anchor="end" stroke="#000" stroke-width="0.15" font-family="Liberation Sans, sans-serif" font-size="8.0" fill="#000"><tspan font-family="Liberation Serif, serif" font-size="7.6">η</tspan>=0.99</text>
<circle cx="629.80" cy="32.70" r="0.95" fill="#000000"/>
<text x="669.90" y="35.80" text-anchor="end" stroke="#000" stroke-width="0.15" font-family="Liberation Sans, sans-serif" font-size="8.0" fill="#000"><tspan font-family="Liberation Serif, serif" font-size="7.6">η</tspan>=0.98</text>
<circle cx="629.80" cy="42.45" r="0.95" fill="#0000ff"/>
<text x="669.90" y="45.55" text-anchor="end" stroke="#000" stroke-width="0.15" font-family="Liberation Sans, sans-serif" font-size="8.0" fill="#000"><tspan font-family="Liberation Serif, serif" font-size="7.6">η</tspan>=0.97</text>
<circle cx="629.80" cy="52.20" r="0.95" fill="#00ff00"/>
<text x="669.90" y="55.30" text-anchor="end" stroke="#000" stroke-width="0.15" font-family="Liberation Sans, sans-serif" font-size="8.0" fill="#000"><tspan font-family="Liberation Serif, serif" font-size="7.6">η</tspan>=0.96</text>
<g font-family="Liberation Serif, serif" font-size="19.1" fill="#000" stroke="#000" stroke-width="0.25" text-anchor="middle">
<text x="168.6" y="269.7" word-spacing="1.2">(a) ABC</text><text x="528.2" y="269.7" word-spacing="0.3">(b) MABC</text></g>
</svg>
</body></html>
